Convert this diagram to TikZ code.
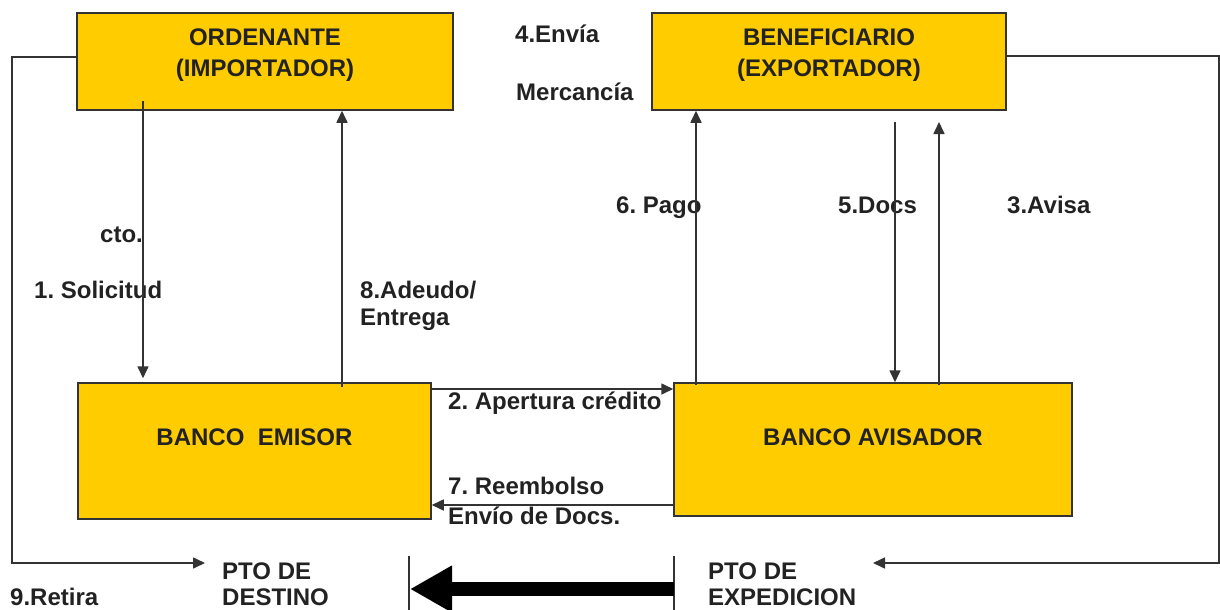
\documentclass[tikz,border=0pt]{standalone}
\usepackage{fontspec}
\setmainfont{Liberation Sans}
\usetikzlibrary{arrows.meta}
\definecolor{boxfill}{HTML}{FFCC00}
\definecolor{ink}{HTML}{222222}
\definecolor{edge}{HTML}{333333}
\frenchspacing
\begin{document}
\begin{tikzpicture}[x=1pt,y=-1pt,
  box/.style={draw=edge, line width=1.5pt, fill=boxfill, inner sep=0pt},
  lbl/.style={font=\bfseries\fontsize{24}{28}\selectfont, text=ink, inner sep=0pt, anchor=base west, align=left},
  ctr/.style={font=\bfseries\fontsize{24}{31}\selectfont, text=ink, inner sep=0pt, anchor=base, align=center},
  conn/.style={draw=edge, line width=1.6pt},
  arr/.style={conn, -{Triangle[length=12pt 0, width=11pt 0]}}]
\useasboundingbox (0,0) rectangle (1220,610);

% boxes
\node[box, minimum width=376pt, minimum height=97pt] (ord) at (265,61.5) {};
\node[box, minimum width=354pt, minimum height=97pt] (ben) at (829,61.5) {};
\node[box, minimum width=353pt, minimum height=136pt] (emi) at (254.5,451) {};
\node[box, minimum width=398pt, minimum height=133pt] (avi) at (873,449.5) {};

% box texts (base anchor = baseline of last line)
\node[ctr] (ordt) at (265,77) {ORDENANTE\\(IMPORTADOR)};
\node[ctr] (bent) at (829,77) {BENEFICIARIO\\(EXPORTADOR)};
\node[ctr] (emit) at (254.5,445) {BANCO\ \ EMISOR};
\node[ctr] (avit) at (873,445) {BANCO AVISADOR};

% free text labels
\node[lbl] (l4a) at (515,43) {4.Envía};
\node[lbl] (l4b) at (516,100) {Mercancía};
\node[lbl] (lcto) at (100,242) {cto.};
\node[lbl] (l1) at (34,298) {1. Solicitud};
\node[lbl, font=\bfseries\fontsize{24}{27}\selectfont] (l8) at (360,325) {8.Adeudo/\\Entrega};
\node[lbl] (l6) at (616,213) {6. Pago};
\node[lbl] (l5) at (838,213) {5.Docs};
\node[lbl] (l3) at (1007,213) {3.Avisa};
\node[lbl] (l2) at (448,409) {2. Apertura crédito};
\node[lbl, font=\bfseries\fontsize{24}{30}\selectfont] (l7) at (448,524) {7. Reembolso\\Envío de Docs.};
\node[lbl] (l9) at (10,605) {9.Retira};
\node[lbl, font=\bfseries\fontsize{24}{26}\selectfont] (dst) at (222,605) {PTO DE\\DESTINO};
\node[lbl, font=\bfseries\fontsize{24}{26}\selectfont] (exp) at (708,605) {PTO DE\\EXPEDICION};

% coordinates
\coordinate (dstin) at (205,563);
\coordinate (expin) at (873,563);
\coordinate (vl1) at (409,556);
\coordinate (vl1b) at (409,612);
\coordinate (vl2) at (674,556);
\coordinate (vl2b) at (674,612);
\coordinate (bigs) at (674,589);
\coordinate (bige) at (410,589);

% loops
\draw[arr] ([yshift=4.5pt]ord.west) -| (12,563) -- (dstin);
\draw[arr] ([yshift=5.5pt]ben.east) -| (1219,563) -- (expin);

% vertical arrows
\draw[arr] (ord.south -| 143,0) ++(0,-10) -- ([yshift=4pt]emi.north -| 143,0);
\draw[arr] (emi.north -| 342,0) ++(0,5) -- (ord.south -| 342,0);
\draw[arr] (avi.north -| 696,0) ++(0,3) -- (ben.south -| 696,0);
\draw[arr] (895,122) -- (avi.north -| 895,0);
\draw[arr] (avi.north -| 939,0) ++(0,3) -- (939,122);

% horizontal arrows
\draw[arr] (emi.east |- 0,389) -- (avi.west |- 0,389);
\draw[arr] (avi.west |- 0,505) -- (emi.east |- 0,505);

% big arrow
\draw[conn] (vl1) -- (vl1b);
\draw[conn] (vl2) -- (vl2b);
\draw[black, line width=14pt, -{Triangle[length=42pt 0, width=44pt 0]}] (bigs) -- (bige);
\end{tikzpicture}
\end{document}
